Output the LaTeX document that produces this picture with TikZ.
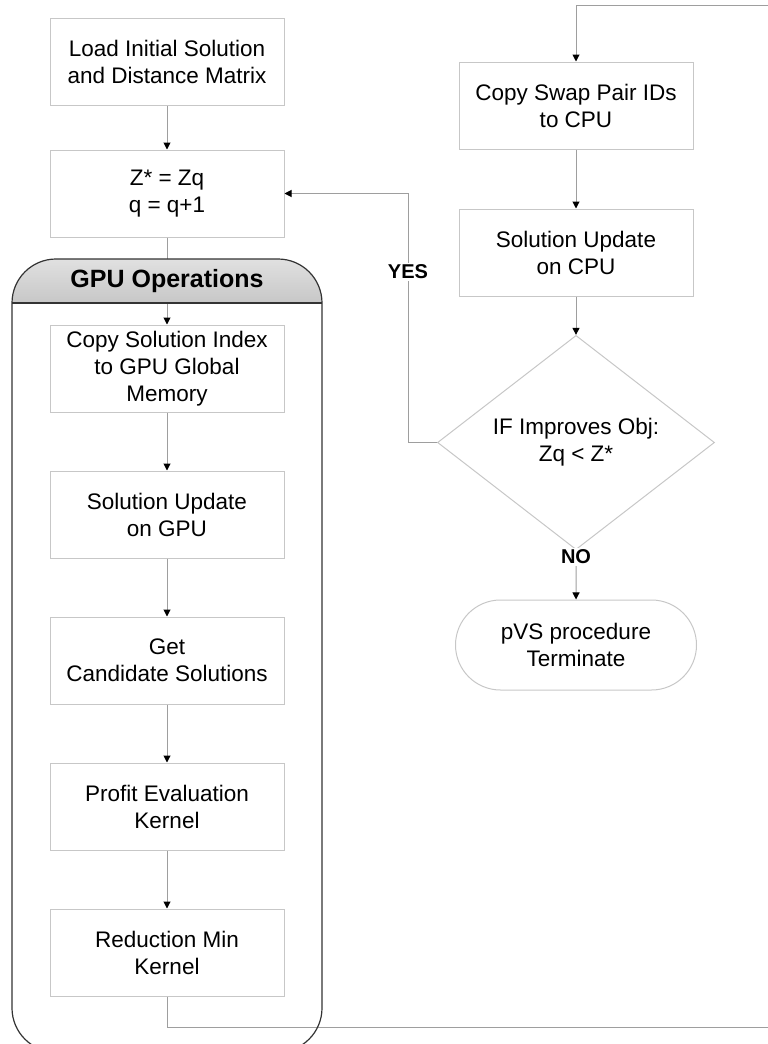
\documentclass[tikz,border=0pt]{standalone}
\usepackage{fontspec}
\setmainfont{Liberation Sans}
\usetikzlibrary{shapes.geometric,shapes.misc,arrows.meta}
\begin{document}
\begin{tikzpicture}[x=1pt,y=-1pt,
  box/.style={draw=black!22, line width=1pt, minimum width=234pt, minimum height=87pt,
    inner sep=0pt, align=center, font=\fontsize{22.5}{27}\selectfont},
  line/.style={draw=black!38, line width=1pt},
  arr/.style={line, -{Triangle[black,length=7pt,width=7pt]}},
  lbl/.style={fill=white, inner sep=2pt, font=\bfseries\fontsize{20}{24}\selectfont}]

\useasboundingbox (0,0) rectangle (768,1044);

% left column
\node [box] (load)    at (167,62)    {Load Initial Solution\\and Distance Matrix};
\node [box] (zq)      at (167,193.5) {Z* = Zq\\q = q+1};
\node [box] (copyidx) at (167,368.5) {Copy Solution Index\\to GPU Global\\Memory};
\node [box] (updgpu)  at (167,514.5) {Solution Update\\on GPU};
\node [box] (cand)    at (167,660.5) {Get\\Candidate Solutions};
\node [box] (profit)  at (167,806.5) {Profit Evaluation\\Kernel};
\node [box] (redmin)  at (167,952.5) {Reduction Min\\Kernel};

% right column
\node [box] (swap)    at (576,105.5) {Copy Swap Pair IDs\\to CPU};
\node [box] (updcpu)  at (576,252.5) {Solution Update\\on CPU};
\node [box, diamond, minimum width=277pt, minimum height=145pt] (cond) at (576,442.5) {IF Improves Obj:\\Zq < Z*};
\node [box, rounded rectangle, minimum width=241pt, minimum height=90pt] (stop) at (576,645) {pVS procedure\\Terminate};

\coordinate (br) at (769,1027);
\coordinate (tr) at (769,5);
\coordinate (yesx) at (408,0);

% connectors
\draw [arr] (load) -- (zq);
\draw [arr] (zq) -- (copyidx);
\draw [arr] (copyidx) -- (updgpu);
\draw [arr] (updgpu) -- (cand);
\draw [arr] (cand) -- (profit);
\draw [arr] (profit) -- (redmin);
\draw [arr] (redmin.south) |- (br) -- (tr) -| (swap.north);
\draw [arr] (swap) -- (updcpu);
\draw [arr] (updcpu) -- (cond);
\draw [arr] (cond.west) -- (cond.west -| yesx) |- (zq.east);
\draw [arr] (cond) -- (stop);

\node [lbl] (yes) at (408,272) {YES};
\node [lbl] (no)  at (576,557) {NO};

% GPU container
\shade [top color=black!12, middle color=white, bottom color=black!22] (12,303) [rounded corners=44pt] -- (12,259) -- (322,259) [sharp corners] -- (322,303) -- cycle;
\draw [black!80, line width=1.2pt, rounded corners=44pt] (12,259) rectangle (322,1052);
\draw [black!80, line width=1.2pt] (12,303) -- (322,303);
\node [font=\bfseries\fontsize{25}{30}\selectfont] (gpu) at (167,281) {GPU Operations};

\end{tikzpicture}
\end{document}
